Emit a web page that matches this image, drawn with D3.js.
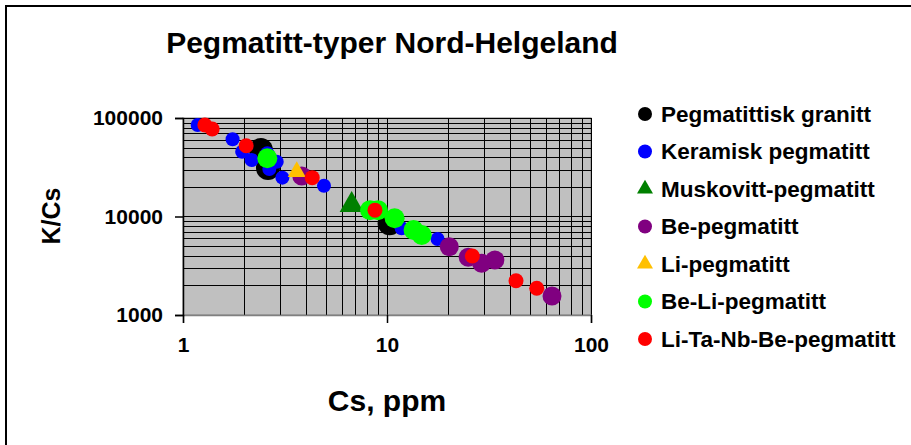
<!DOCTYPE html>
<html>
<head>
<meta charset="utf-8">
<script src="https://cdn.jsdelivr.net/npm/d3@7"></script>
<style>
    body { margin: 0; background: #fff; }
    text { font-family: "Liberation Sans", Arial, sans-serif; font-weight: bold; }
</style>
</head>
<body>
<svg id="chart" width="911" height="445"></svg>
<script>
// series names, colours and marker shapes
const seriesNames = ["Pegmatittisk granitt", "Keramisk pegmatitt", "Muskovitt-pegmatitt",
    "Be-pegmatitt", "Li-pegmatitt", "Be-Li-pegmatitt", "Li-Ta-Nb-Be-pegmatitt"];
const seriesColors = ["#000000", "#0000ff", "#008000", "#800080", "#ffc000", "#00ff00", "#ff0000"];
const seriesShapes = ["circle", "circle", "triangle", "circle", "triangle", "circle", "circle"];
const seriesRadius = [12, 7, 12, 9.5, 9, 10, 7.5];

// Cs (ppm) and K/Cs values, one pair of arrays per series
const granittCs  = [2.41, 2.61, 10.3];
const granittKCs = [47300, 31100, 8530];
const keramiskCs  = [1.18, 1.75, 1.95, 2.17, 2.59, 2.88, 2.65, 3.07, 4.91, 11.8, 17.7];
const keramiskKCs = [85000, 60800, 45500, 37500, 43800, 36000, 30400, 24800, 20500, 7590, 5910];
const muskovittCs  = [6.71];
const muskovittKCs = [13100];
const beCs  = [3.82, 20.2, 25.0, 29.1, 33.8, 64.4];
const beKCs = [25800, 4940, 3850, 3350, 3620, 1560];
const liCs  = [3.61];
const liKCs = [28500];
const beLiCs  = [2.59, 8.26, 9.03, 10.9, 13.5, 14.8];
const beLiKCs = [39000, 11600, 11600, 9590, 7300, 6490];
const ltnbCs  = [1.28, 1.39, 2.04, 4.30, 8.73, 26.2, 42.9, 54.2];
const ltnbKCs = [85000, 77300, 52300, 24800, 11600, 3970, 2230, 1870];

const seriesCs  = [granittCs, keramiskCs, muskovittCs, beCs, liCs, beLiCs, ltnbCs];
const seriesKCs = [granittKCs, keramiskKCs, muskovittKCs, beKCs, liKCs, beLiKCs, ltnbKCs];

const xTicks = [1, 10, 100];
const yTicks = [1000, 10000, 100000];

const svg = d3.select("#chart");

// outer frame (only top and left edges show in the picture)
svg.append("path")
    .attr("d", "M6,445V6H911")
    .attr("fill", "none")
    .attr("stroke", "#000")
    .attr("stroke-width", 2);

const x = d3.scaleLog().domain([1, 100]).range([183, 591]);
const y = d3.scaleLog().domain([1000, 100000]).range([315, 118]);

// plot area
svg.append("rect")
    .attr("x", x(1)).attr("y", y(100000))
    .attr("width", x(100) - x(1)).attr("height", y(1000) - y(100000))
    .attr("fill", "#c0c0c0")
    .attr("stroke", "#808080")
    .attr("stroke-width", 1);

// log gridlines, major and minor
const xGrid = d3.range(1, 10).concat(d3.range(10, 101, 10));
const yGrid = d3.range(1000, 10000, 1000).concat(d3.range(10000, 100001, 10000));

svg.append("g").selectAll("line")
    .data(xGrid)
    .enter().append("line")
    .attr("x1", d => Math.round(x(d)) + 0.5).attr("x2", d => Math.round(x(d)) + 0.5)
    .attr("y1", y(100000)).attr("y2", y(1000))
    .attr("stroke", "#000")
    .attr("stroke-width", 1);

svg.append("g").selectAll("line")
    .data(yGrid)
    .enter().append("line")
    .attr("y1", d => Math.round(y(d)) + 0.5).attr("y2", d => Math.round(y(d)) + 0.5)
    .attr("x1", x(1)).attr("x2", x(100))
    .attr("stroke", "#000")
    .attr("stroke-width", 1);

// axes
const xAxis = svg.append("g")
    .attr("transform", "translate(0," + y(1000) + ")")
    .call(d3.axisBottom(x).tickValues(xTicks).tickFormat(d3.format("d")).tickSize(8).tickPadding(14));
const yAxis = svg.append("g")
    .attr("transform", "translate(" + x(1) + ",0)")
    .call(d3.axisLeft(y).tickValues(yTicks).tickFormat(d3.format("d")).tickSize(8).tickPadding(12));

xAxis.select(".domain").attr("stroke", "#808080").attr("stroke-width", 1.5);
yAxis.select(".domain").attr("stroke", "#000").attr("stroke-width", 1.5);
svg.selectAll(".tick line").attr("stroke", "#000").attr("stroke-width", 1.5);
svg.selectAll(".tick text")
    .attr("font-family", "Liberation Sans, Arial, sans-serif")
    .attr("font-weight", "bold")
    .attr("font-size", 21)
    .attr("fill", "#000");

// markers, drawn in series order like the original
function symbolPath(shape, r) {
    if (shape === "triangle") {
        const w = r * 2;
        return d3.symbol(d3.symbolTriangle, Math.sqrt(3) / 4 * w * w)();
    }
    return d3.symbol(d3.symbolCircle, Math.PI * r * r)();
}

seriesNames.forEach((name, i) => {
    const points = seriesCs[i].map((cs, j) => ({ cs: cs, kcs: seriesKCs[i][j] }));
    svg.append("g")
        .attr("class", "series")
        .selectAll("path")
        .data(points)
        .enter().append("path")
        .attr("d", symbolPath(seriesShapes[i], seriesRadius[i]))
        .attr("transform", d => "translate(" + x(d.cs) + "," + y(d.kcs) + ")")
        .attr("fill", seriesColors[i]);
});

// legend
const legend = svg.append("g")
    .selectAll("g")
    .data(seriesNames)
    .enter().append("g")
    .attr("transform", (d, i) => "translate(645," + (114 + i * 37.5) + ")");

legend.append("path")
    .attr("d", (d, i) => symbolPath(seriesShapes[i], seriesShapes[i] === "triangle" ? 8 : 7))
    .attr("fill", (d, i) => seriesColors[i]);

legend.append("text")
    .text(d => d)
    .attr("x", 16)
    .attr("y", 7.5)
    .attr("font-size", 22.5)
    .attr("fill", "#000");

// titles
svg.append("text")
    .text("Pegmatitt-typer Nord-Helgeland")
    .attr("x", 392)
    .attr("y", 53)
    .attr("text-anchor", "middle")
    .attr("font-size", 30);

svg.append("text")
    .text("Cs, ppm")
    .attr("x", 387)
    .attr("y", 411)
    .attr("text-anchor", "middle")
    .attr("font-size", 30);

svg.append("text")
    .text("K/Cs")
    .attr("transform", "translate(60,216) rotate(-90)")
    .attr("text-anchor", "middle")
    .attr("font-size", 25);
</script>
</body>
</html>
